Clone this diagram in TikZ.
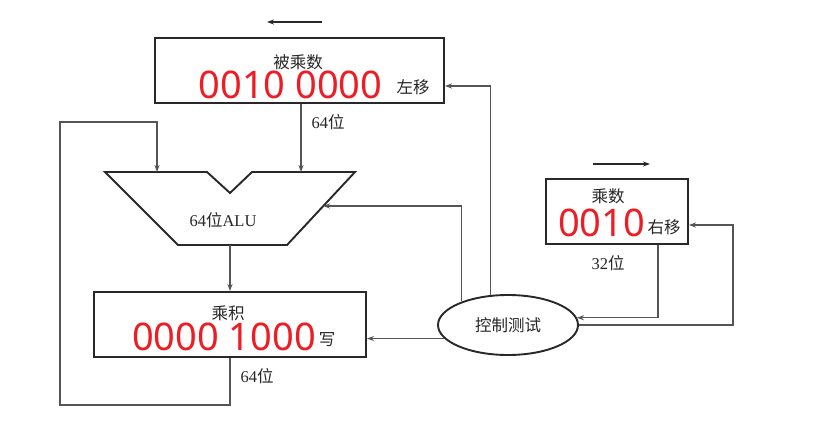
\documentclass[tikz,border=0pt]{standalone}
\usepackage{fontspec}
\setmainfont{Liberation Serif}
\newfontfamily\cjk{Noto Sans CJK SC}
\newfontfamily\redf{Noto Sans}
\usetikzlibrary{arrows.meta,shapes.geometric}
\definecolor{boxc}{RGB}{40,40,40}
\definecolor{connc}{RGB}{85,85,85}
\definecolor{redt}{RGB}{238,28,36}
\begin{document}
\begin{tikzpicture}[x=1pt,y=-1pt,
  box/.style={draw=boxc,line width=1.9pt,inner sep=0pt},
  conn/.style={draw=connc,line width=1.1pt},
  arr/.style={conn,-{Stealth[length=7pt,width=5pt]}},
  lbl/.style={font=\fontsize{16.5}{16.5}\selectfont,text=black!85,inner sep=0pt},
  rtxt/.style={font=\redf\fontsize{38}{38}\selectfont,text=redt,inner sep=0pt}]
\useasboundingbox[fill=white] (0,0) rectangle (819,422);
% boxes
\node[box,minimum width=289pt,minimum height=65pt] (mcand) at (299.5,70.5) {};
\node[box,minimum width=272pt,minimum height=65pt] (prod) at (230,324.5) {};
\node[box,minimum width=142pt,minimum height=65pt] (mplier) at (617,211.5) {};
\node[box,ellipse,minimum width=140pt,minimum height=60pt] (ctrl) at (508,325) {};
% ALU
\draw[boxc,line width=1.9pt,line join=miter] (105,172) -- (207,172) -- (230,193) -- (252,172) -- (355,172) -- (287,245) -- (178,245) -- cycle;
\coordinate (aluL) at (157,172);
\coordinate (aluR) at (301,172);
\coordinate (aluS) at (323,206);
\coordinate (aluB) at (230,245);
% labels
\node[lbl] (t1) at (298,62) {\cjk 被乘数};
\node[lbl] (t2) at (413,87) {\cjk 左移};
\node[lbl] (t3) at (328,122) {64\cjk 位};
\node[lbl] (t4) at (223,220) {64{\cjk 位}ALU};
\node[lbl] (t5) at (228,313) {\cjk 乘积};
\node[lbl] (t6) at (327,340) {\cjk 写};
\node[lbl] (t7) at (257,376) {64\cjk 位};
\node[lbl] (t8) at (608,196) {\cjk 乘数};
\node[lbl] (t9) at (664,227) {\cjk 右移};
\node[lbl] (t10) at (608,263) {32\cjk 位};
\node[lbl] (t11) at (508,325) {\cjk 控制测试};
% red texts
\node[rtxt] (r1) at (290.5,85) {0010 0000};
\node[rtxt] (r2) at (224,337) {0000 1000};
\node[rtxt] (r3) at (601.5,223) {0010};
% shift arrows
\coordinate (la1) at (322,22); \coordinate (la2) at (267,22);
\coordinate (ra1) at (593,164); \coordinate (ra2) at (650,164);
\draw[boxc,line width=1.1pt,-{Stealth[length=7pt,width=5pt]}] (la1) -- (la2);
\draw[boxc,line width=1.1pt,-{Stealth[length=7pt,width=5pt]}] (ra1) -- (ra2);
% connectors
\draw[arr] (mcand.south -| aluR) -- (aluR);
\draw[arr] (prod.south -| aluB) -- ++(0,47) -| (60,122) -| (aluL);
\draw[arr] (aluB) -- (aluB |- prod.north);
\draw[arr] (ctrl.192) -- (prod.east |- ctrl.192);
\draw[arr] (ctrl.120) |- (mcand.east |- 0,86);
\draw[arr] (ctrl.153) |- (aluS);
\draw[arr] (mplier.south -| 658,0) |- (ctrl.6);
\draw[arr] (ctrl.east) -| (733,225) -- (mplier.east |- 0,225);
\end{tikzpicture}
\end{document}
